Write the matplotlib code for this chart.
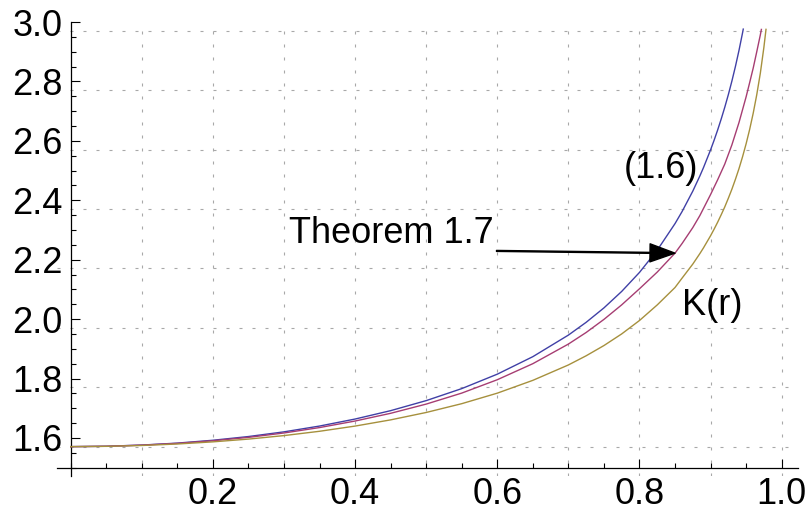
import matplotlib
matplotlib.use("Agg")
import matplotlib.pyplot as plt
from matplotlib.ticker import MultipleLocator, FixedLocator

# curve (1.6)
r_blue = [0, 0.05, 0.1, 0.15, 0.2, 0.25, 0.3, 0.35, 0.4, 0.45, 0.5, 0.55,
          0.6, 0.65, 0.7, 0.725, 0.75, 0.775, 0.8, 0.825, 0.85, 0.86, 0.875,
          0.885, 0.89, 0.9, 0.905, 0.91, 0.915, 0.92, 0.925, 0.93, 0.935,
          0.94, 0.945, 0.946]
y_blue = [1.5708, 1.5721, 1.5761, 1.5827, 1.5923, 1.6048, 1.6206, 1.6401,
          1.6637, 1.6919, 1.7257, 1.7661, 1.8147, 1.8736, 1.9462, 1.9892,
          2.0377, 2.0932, 2.1571, 2.2320, 2.3214, 2.3623, 2.4307, 2.4820,
          2.5096, 2.5695, 2.6021, 2.6367, 2.6737, 2.7131, 2.7554, 2.8011,
          2.8506, 2.9044, 2.9635, 2.9761]

# curve Theorem 1.7
r_red = [0, 0.05, 0.1, 0.15, 0.2, 0.25, 0.3, 0.35, 0.4, 0.45, 0.5, 0.55,
         0.6, 0.65, 0.7, 0.725, 0.75, 0.775, 0.8, 0.825, 0.85, 0.86, 0.875,
         0.885, 0.9, 0.91, 0.92, 0.93, 0.94, 0.95, 0.955, 0.96, 0.965, 0.97,
         0.9715]
y_red = [1.5708, 1.5720, 1.5758, 1.5818, 1.5906, 1.6020, 1.6168, 1.6350,
         1.6570, 1.6830, 1.7140, 1.7510, 1.7960, 1.8500, 1.9160, 1.9550,
         1.9990, 2.0480, 2.1021, 2.1583, 2.2220, 2.2547, 2.3080, 2.3487,
         2.4192, 2.4691, 2.5219, 2.5864, 2.6617, 2.7480, 2.7960, 2.8450,
         2.9000, 2.9564, 2.9750]

# K(r)
r_k = [0, 0.05, 0.1, 0.15, 0.2, 0.25, 0.3, 0.35, 0.4, 0.45, 0.5, 0.55, 0.6,
       0.65, 0.7, 0.725, 0.75, 0.775, 0.8, 0.825, 0.85, 0.86, 0.875, 0.885,
       0.89, 0.9, 0.905, 0.91, 0.915, 0.92, 0.925, 0.93, 0.935, 0.94, 0.945,
       0.95, 0.955, 0.96, 0.965, 0.97, 0.975, 0.978]
y_k = [1.5708, 1.5718, 1.5747, 1.5797, 1.5869, 1.5962, 1.6080, 1.6225,
       1.6400, 1.6609, 1.6858, 1.7154, 1.7508, 1.7939, 1.8457, 1.8766,
       1.9110, 1.9502, 1.9953, 2.0478, 2.1064, 2.1382, 2.1852, 2.2207,
       2.2396, 2.2805, 2.3028, 2.3263, 2.3514, 2.3777, 2.4067, 2.4372,
       2.4707, 2.5066, 2.5464, 2.5900, 2.6385, 2.6931, 2.7555, 2.8274,
       2.9144, 2.9753]

x_ticks = [0.2, 0.4, 0.6, 0.8, 1.0]
y_ticks = [1.6, 1.8, 2.0, 2.2, 2.4, 2.6, 2.8, 3.0]
x_grid = [0.1 * k for k in range(1, 11)]
y_grid = [1.5708 + 0.2 * k for k in range(8)]

W, H = 810, 515
fig = plt.figure(figsize=(W / 100, H / 100), dpi=100)
plt.rcParams['font.family'] = ['Liberation Sans', 'DejaVu Sans']

# axes box in pixels (left, right, bottom, top)
L, R, B, T = 56.5, 798.0, 475.7, 22.0
ax = fig.add_axes([L / W, 1 - B / H, (R - L) / W, (B - T) / H])
ax.set_xlim(-0.02, 1.023)
ax.set_ylim(1.473, 3.0)

grid_kw = dict(color='#a8a8a8', lw=0.8, dashes=(2.7, 9), zorder=0)
for gx in x_grid:
    ax.axvline(gx, **grid_kw)
for gy in y_grid:
    ax.axhline(gy, **grid_kw)

ax.plot(r_blue, y_blue, color='#4040a6', lw=1.0, zorder=3)
ax.plot(r_red, y_red, color='#a63d72', lw=1.0, zorder=3)
ax.plot(r_k, y_k, color='#a6903d', lw=1.0, zorder=3)

ax.spines['top'].set_visible(False)
ax.spines['right'].set_visible(False)
ax.spines['left'].set_position(('data', 0))
ax.spines['bottom'].set_position(('data', 1.5))
for s in ('left', 'bottom'):
    ax.spines[s].set_linewidth(0.9)

ax.xaxis.set_major_locator(FixedLocator(x_ticks))
ax.xaxis.set_minor_locator(MultipleLocator(0.05))
ax.yaxis.set_major_locator(FixedLocator(y_ticks))
ax.yaxis.set_minor_locator(MultipleLocator(0.05))
ax.set_xticklabels([f"{v:.1f}" for v in x_ticks])
ax.set_yticklabels([f"{v:.1f}" for v in y_ticks])
ax.tick_params(which='major', direction='in', length=6.5, width=0.8,
               labelsize=26)
ax.tick_params(which='minor', direction='in', length=3.6, width=0.8)
ax.tick_params(axis='x', which='major', pad=6.5)
ax.tick_params(axis='y', which='major', pad=6)

ax.text(0.8306, 2.4754, "(1.6)", fontsize=26, ha='center', va='baseline')
ax.text(0.902, 2.014, "K(r)", fontsize=26, ha='center', va='baseline')
ax.annotate("Theorem 1.7", xy=(0.85, 2.222), xytext=(0.595, 2.2566),
            fontsize=26, ha='right', va='baseline',
            arrowprops=dict(facecolor='black', edgecolor='black', width=0.7,
                            headwidth=13, headlength=18, shrink=0))

fig.savefig("out.png", dpi=100)
